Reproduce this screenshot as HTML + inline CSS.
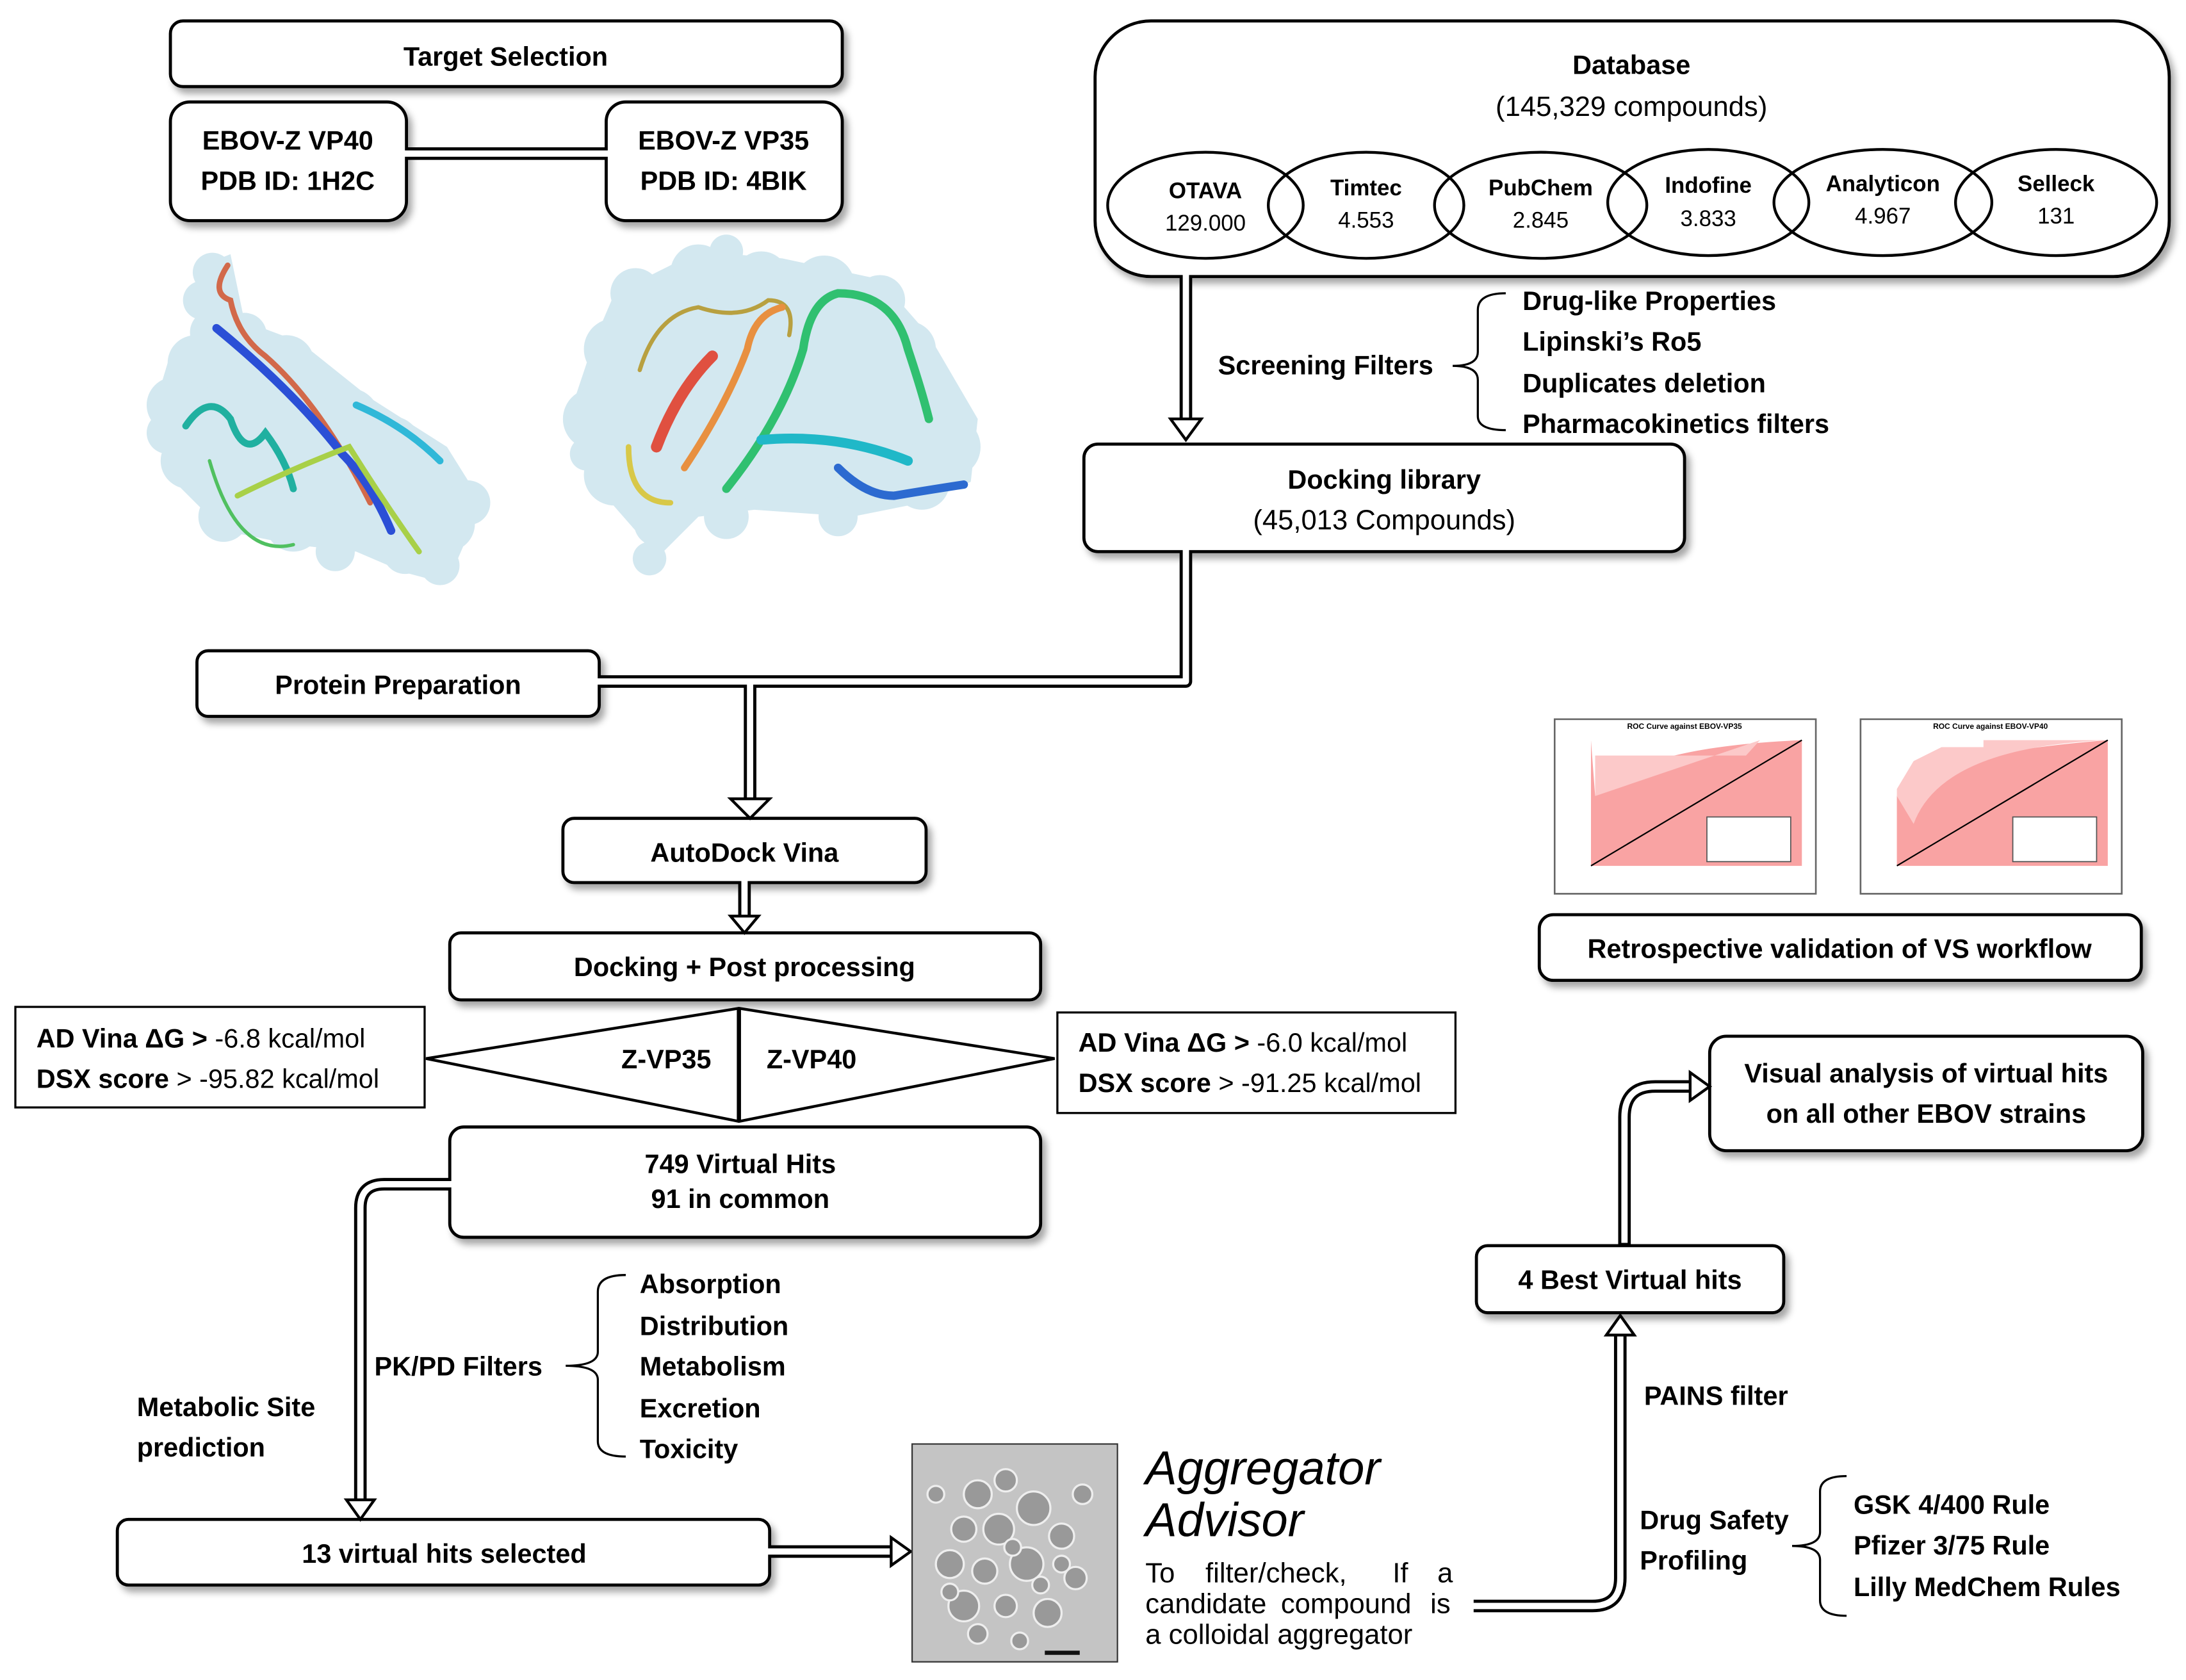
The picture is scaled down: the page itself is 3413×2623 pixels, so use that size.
<!DOCTYPE html>
<html><head><meta charset="utf-8"><style>
html,body{margin:0;padding:0;background:#fff;}
svg{display:block;}
text{font-family:"Liberation Sans",sans-serif;fill:#000;}
.b{font-weight:bold;}
</style></head><body>
<svg width="3413" height="2623" viewBox="0 0 1565 1203" preserveAspectRatio="none" xmlns="http://www.w3.org/2000/svg">
<defs>
<filter id="sh" x="-10%" y="-20%" width="130%" height="150%"><feDropShadow dx="3" dy="4" stdDeviation="2.5" flood-color="#000" flood-opacity="0.35"/></filter>
</defs>
<g stroke="#000" stroke-width="2.2" fill="#fff" filter="url(#sh)">
<rect x="122" y="15" width="481" height="47" rx="9"/>
<rect x="122" y="73" width="169" height="85" rx="14"/>
<rect x="434" y="73" width="169" height="85" rx="14"/>
<rect x="784" y="15" width="769" height="183" rx="40"/>
<rect x="776" y="318" width="430" height="77" rx="10"/>
<rect x="141" y="466" width="288" height="47" rx="8"/>
<rect x="403" y="586" width="260" height="46" rx="8"/>
<rect x="322" y="668" width="423" height="48" rx="8"/>
<rect x="322" y="807" width="423" height="79" rx="10"/>
<rect x="84" y="1088" width="467" height="47" rx="8"/>
<rect x="1057" y="892" width="220" height="48" rx="8"/>
<rect x="1224" y="742" width="310" height="82" rx="12"/>
<rect x="1102" y="655" width="431" height="47" rx="10"/>
</g>
<g stroke="#000" stroke-width="1.5" fill="#fff">
<rect x="11" y="721" width="293" height="72"/>
<rect x="757" y="725" width="285" height="72"/>
</g>
<g stroke="#000" stroke-width="2" fill="none">
<ellipse cx="863" cy="147" rx="70" ry="38"/>
<ellipse cx="978" cy="147" rx="70" ry="38"/>
<ellipse cx="1103" cy="147" rx="76" ry="38"/>
<ellipse cx="1223" cy="145" rx="72" ry="38"/>
<ellipse cx="1348" cy="145" rx="78" ry="38"/>
<ellipse cx="1472" cy="145" rx="72" ry="38"/>
</g>
<g fill="none" stroke-linejoin="round">
<g stroke="#000" stroke-width="9">
<path d="M291 110 H434"/>
<path d="M849 198 V300"/>
<path d="M849 395 V488 H429"/>
<path d="M537 488 V572"/>
<path d="M533 632 V656"/>
<path d="M322 848 H275 Q258 848 258 865 V1074"/>
<path d="M551 1111 H638"/>
<path d="M1055 1150 H1140 Q1160 1150 1160 1130 V956"/>
<path d="M1163 892 V800 Q1163 778 1185 778 H1210"/>
</g>
<g stroke="#fff" stroke-width="4.5">
<path d="M289 110 H436"/>
<path d="M849 196 V302"/>
<path d="M849 393 V488 H427"/>
<path d="M537 488 V574"/>
<path d="M533 630 V658"/>
<path d="M324 848 H275 Q258 848 258 865 V1076"/>
<path d="M549 1111 H640"/>
<path d="M1053 1150 H1140 Q1160 1150 1160 1130 V954"/>
<path d="M1163 890 V800 Q1163 778 1185 778 H1212"/>
</g>
</g>
<g fill="#fff" stroke="#000" stroke-width="2">
<path d="M838 300 H860 L849 315 Z"/>
<path d="M523 572 H551 L537 586 Z"/>
<path d="M523 656 H543 L533 668 Z"/>
<path d="M248 1074 H268 L258 1088 Z"/>
<path d="M638 1101 V1121 L652 1111 Z"/>
<path d="M1150 956 H1170 L1160 942 Z"/>
<path d="M1210 768 V788 L1224 778 Z"/>
</g>
<path d="M305 758 L529 722 L755 758 L529 803 Z" fill="#fff" stroke="#000" stroke-width="2"/>
<line x1="529" y1="722" x2="529" y2="803" stroke="#000" stroke-width="3"/>
<g fill="none" stroke="#000" stroke-width="1.5">
<path d="M1078 210 Q1058 210 1058 222 V252 Q1058 262 1040 262 Q1058 262 1058 272 V298 Q1058 308 1078 308"/>
<path d="M448 913 Q428 913 428 925 V968 Q428 978 405 978 Q428 978 428 988 V1032 Q428 1043 448 1043"/>
<path d="M1322 1057 Q1303 1057 1303 1068 V1097 Q1303 1107 1283 1107 Q1303 1107 1303 1117 V1146 Q1303 1157 1322 1157"/>
</g>
<g fill="#d3e8f0">
<path d="M145 190 L165 182 L175 230 L215 245 L265 285 L320 320 L345 360 L330 395 L320 418 L290 410 L255 395 L210 390 L160 380 L125 345 L108 300 L120 260 L140 240 Z"/>
<path d="M440 210 L500 180 L560 185 L630 200 L665 240 L700 300 L695 345 L660 360 L610 370 L540 365 L500 370 L470 400 L455 380 L420 340 L410 290 L425 245 Z"/>
<circle cx="152" cy="195" r="14"/><circle cx="145" cy="215" r="14"/><circle cx="152" cy="238" r="16"/>
<circle cx="175" cy="240" r="16"/><circle cx="140" cy="260" r="20"/><circle cx="175" cy="265" r="22"/>
<circle cx="205" cy="260" r="20"/><circle cx="125" cy="290" r="20"/><circle cx="160" cy="300" r="25"/>
<circle cx="210" cy="295" r="25"/><circle cx="250" cy="300" r="22"/><circle cx="135" cy="330" r="20"/>
<circle cx="180" cy="340" r="28"/><circle cx="230" cy="335" r="28"/><circle cx="280" cy="320" r="22"/>
<circle cx="305" cy="345" r="25"/><circle cx="160" cy="370" r="18"/><circle cx="210" cy="375" r="20"/>
<circle cx="260" cy="370" r="22"/><circle cx="320" cy="375" r="20"/><circle cx="290" cy="395" r="16"/>
<circle cx="315" cy="405" r="14"/><circle cx="335" cy="360" r="16"/><circle cx="240" cy="395" r="14"/>
<circle cx="120" cy="310" r="15"/>
<circle cx="455" cy="210" r="18"/><circle cx="500" cy="195" r="20"/><circle cx="520" cy="180" r="12"/>
<circle cx="545" cy="200" r="20"/><circle cx="590" cy="205" r="22"/><circle cx="630" cy="215" r="18"/>
<circle cx="440" cy="250" r="22"/><circle cx="490" cy="240" r="25"/><circle cx="545" cy="240" r="28"/>
<circle cx="600" cy="245" r="28"/><circle cx="650" cy="250" r="20"/><circle cx="425" cy="300" r="22"/>
<circle cx="470" cy="290" r="28"/><circle cx="530" cy="290" r="30"/><circle cx="590" cy="290" r="28"/>
<circle cx="645" cy="295" r="25"/><circle cx="680" cy="320" r="22"/><circle cx="440" cy="340" r="22"/>
<circle cx="490" cy="340" r="25"/><circle cx="545" cy="335" r="25"/><circle cx="620" cy="340" r="22"/>
<circle cx="660" cy="345" r="20"/><circle cx="470" cy="375" r="16"/><circle cx="465" cy="400" r="12"/>
<circle cx="520" cy="370" r="16"/><circle cx="600" cy="370" r="14"/><circle cx="420" cy="325" r="12"/>
</g>
<g fill="none" stroke-width="4" stroke-linecap="round">
<path d="M163 190 Q150 210 165 215 Q170 240 190 255 Q230 290 265 360" stroke="#d2694a"/>
<path d="M155 235 Q210 280 245 325 Q265 345 280 380" stroke="#2b4fd6" stroke-width="6"/>
<path d="M133 305 Q150 280 165 300 Q175 330 190 310 Q205 330 210 350" stroke="#20b0a0" stroke-width="5"/>
<path d="M170 355 Q210 335 250 320 Q275 360 300 395" stroke="#a8d048" stroke-width="4"/>
<path d="M150 330 Q170 400 210 390" stroke="#50c060" stroke-width="2.5"/>
<path d="M255 290 Q290 305 315 330" stroke="#30b8d8" stroke-width="5"/>
<path d="M458 265 Q470 225 500 220 Q530 230 550 215 Q570 215 565 240" stroke="#b8a040" stroke-width="3"/>
<path d="M470 320 Q485 280 510 255" stroke="#e05040" stroke-width="8"/>
<path d="M490 335 Q520 290 535 250 Q540 225 560 220" stroke="#e89040" stroke-width="5"/>
<path d="M520 350 Q560 300 575 250 Q580 215 600 210 Q640 210 650 250 Q660 280 665 300" stroke="#30c070" stroke-width="6"/>
<path d="M545 315 Q600 310 650 330" stroke="#20b8c8" stroke-width="7"/>
<path d="M600 335 Q620 355 640 355 Q670 350 690 347" stroke="#2c6ad0" stroke-width="6"/>
<path d="M450 320 Q450 360 480 360" stroke="#d8c848" stroke-width="4"/>
</g>
<g>
<rect x="1113" y="515" width="187" height="125" fill="#fff" stroke="#666" stroke-width="1.2"/>
<path d="M1139 530 V620 H1290 V530 Q1170 535 1142 570 Z" fill="#f9a3a3"/>
<path d="M1142 570 L1142 541 H1250 L1260 530 Z" fill="#fcc9c9"/>
<line x1="1139" y1="620" x2="1290" y2="530" stroke="#000" stroke-width="1"/>
<rect x="1222" y="585" width="60" height="32" fill="#fff" stroke="#555" stroke-width="0.8"/>
<text x="1206" y="522" font-size="5.5" text-anchor="middle" class="b">ROC Curve against EBOV-VP35</text>
<rect x="1332" y="515" width="187" height="125" fill="#fff" stroke="#666" stroke-width="1.2"/>
<path d="M1358 530 V620 H1509 V530 Q1380 540 1358 570 Z" fill="#f9a3a3"/>
<path d="M1358 565 L1370 545 L1390 535 H1420 V530 H1509 Q1390 535 1370 590 L1358 570 Z" fill="#fcc9c9"/>
<line x1="1358" y1="620" x2="1509" y2="530" stroke="#000" stroke-width="1"/>
<rect x="1441" y="585" width="60" height="32" fill="#fff" stroke="#555" stroke-width="0.8"/>
<text x="1425" y="522" font-size="5.5" text-anchor="middle" class="b">ROC Curve against EBOV-VP40</text>
</g>
<rect x="653" y="1034" width="147" height="156" fill="#c4c4c4" stroke="#333" stroke-width="1"/>
<g fill="#999" stroke="#eee" stroke-width="1.5">
<circle cx="700" cy="1070" r="10"/><circle cx="720" cy="1060" r="8"/><circle cx="740" cy="1080" r="12"/>
<circle cx="690" cy="1095" r="9"/><circle cx="715" cy="1095" r="11"/><circle cx="760" cy="1100" r="9"/>
<circle cx="680" cy="1120" r="10"/><circle cx="705" cy="1125" r="9"/><circle cx="735" cy="1120" r="12"/>
<circle cx="770" cy="1130" r="8"/><circle cx="690" cy="1150" r="11"/><circle cx="720" cy="1150" r="8"/>
<circle cx="750" cy="1155" r="10"/><circle cx="775" cy="1070" r="7"/><circle cx="670" cy="1070" r="6"/>
<circle cx="700" cy="1170" r="7"/><circle cx="730" cy="1175" r="6"/><circle cx="680" cy="1140" r="6"/>
<circle cx="760" cy="1120" r="6"/><circle cx="745" cy="1135" r="6"/><circle cx="725" cy="1108" r="6"/>
</g>
<rect x="748" y="1182" width="25" height="3" fill="#111"/>
<g class="b" font-size="19">
<text x="362" y="47" text-anchor="middle">Target Selection</text>
<text x="206" y="107" text-anchor="middle">EBOV-Z  VP40</text>
<text x="206" y="136" text-anchor="middle">PDB ID:  1H2C</text>
<text x="518" y="107" text-anchor="middle">EBOV-Z  VP35</text>
<text x="518" y="136" text-anchor="middle">PDB ID:  4BIK</text>
<text x="1168" y="53" text-anchor="middle">Database</text>
<text x="991" y="350" text-anchor="middle">Docking library</text>
<text x="285" y="497" text-anchor="middle">Protein Preparation</text>
<text x="533" y="617" text-anchor="middle">AutoDock Vina</text>
<text x="533" y="699" text-anchor="middle">Docking + Post processing</text>
<text x="477" y="765" text-anchor="middle">Z-VP35</text>
<text x="581" y="765" text-anchor="middle">Z-VP40</text>
<text x="530" y="840" text-anchor="middle">749 Virtual Hits</text>
<text x="530" y="865" text-anchor="middle">91 in common</text>
<text x="318" y="1119" text-anchor="middle">13 virtual hits selected</text>
<text x="1167" y="923" text-anchor="middle">4 Best Virtual hits</text>
<text x="1379" y="775" text-anchor="middle">Visual analysis of virtual hits</text>
<text x="1379" y="804" text-anchor="middle">on all other EBOV strains</text>
<text x="1317" y="686" text-anchor="middle">Retrospective validation of VS workflow</text>
<text x="872" y="268">Screening Filters</text>
<text x="1090" y="222">Drug-like Properties</text>
<text x="1090" y="251">Lipinski’s Ro5</text>
<text x="1090" y="281">Duplicates deletion</text>
<text x="1090" y="310">Pharmacokinetics filters</text>
<text x="268" y="985">PK/PD Filters</text>
<text x="458" y="926">Absorption</text>
<text x="458" y="956">Distribution</text>
<text x="458" y="985">Metabolism</text>
<text x="458" y="1015">Excretion</text>
<text x="458" y="1044">Toxicity</text>
<text x="98" y="1014">Metabolic Site</text>
<text x="98" y="1043">prediction</text>
<text x="1177" y="1006">PAINS filter</text>
<text x="1174" y="1095">Drug Safety</text>
<text x="1174" y="1124">Profiling</text>
<text x="1327" y="1084">GSK 4/400 Rule</text>
<text x="1327" y="1113">Pfizer 3/75 Rule</text>
<text x="1327" y="1143">Lilly MedChem Rules</text>
</g>
<g font-size="20">
<text x="1168" y="83" text-anchor="middle">(145,329 compounds)</text>
<text x="991" y="379" text-anchor="middle">(45,013 Compounds)</text>
</g>
<g font-size="19">
<text x="26" y="750"><tspan class="b">AD Vina ΔG &gt;</tspan> -6.8 kcal/mol</text>
<text x="26" y="779"><tspan class="b">DSX score</tspan> &gt; -95.82 kcal/mol</text>
<text x="772" y="753"><tspan class="b">AD Vina ΔG &gt;</tspan> -6.0 kcal/mol</text>
<text x="772" y="782"><tspan class="b">DSX score</tspan> &gt; -91.25 kcal/mol</text>
</g>
<g font-size="16" text-anchor="middle">
<text x="863" y="142" class="b">OTAVA</text><text x="863" y="165">129.000</text>
<text x="978" y="140" class="b">Timtec</text><text x="978" y="163">4.553</text>
<text x="1103" y="140" class="b">PubChem</text><text x="1103" y="163">2.845</text>
<text x="1223" y="138" class="b">Indofine</text><text x="1223" y="162">3.833</text>
<text x="1348" y="137" class="b">Analyticon</text><text x="1348" y="160">4.967</text>
<text x="1472" y="137" class="b">Selleck</text><text x="1472" y="160">131</text>
</g>
<g font-style="italic" font-size="34">
<text x="820" y="1063">Aggregator</text>
<text x="820" y="1100">Advisor</text>
</g>
<g font-size="20">
<text y="1133"><tspan x="820">To</tspan><tspan x="863">filter/check,</tspan><tspan x="997">If</tspan><tspan x="1029">a</tspan></text>
<text y="1155"><tspan x="820">candidate</tspan><tspan x="917">compound</tspan><tspan x="1024">is</tspan></text>
<text x="820" y="1177">a colloidal aggregator</text>
</g>
</svg>
</body></html>
